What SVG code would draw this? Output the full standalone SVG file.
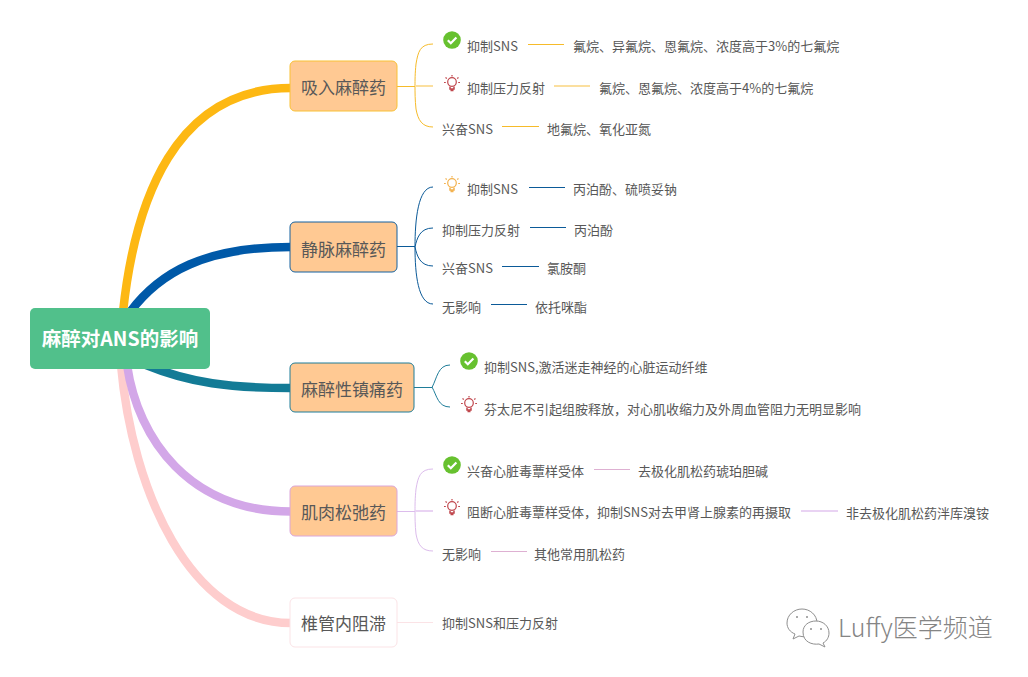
<svg xmlns="http://www.w3.org/2000/svg" width="1028" height="677" viewBox="0 0 1028 677">
<style>
text{font-family:"Noto Sans CJK SC","Microsoft YaHei",sans-serif;fill:#585858}
.t{font-size:13px}
.b{font-size:17px;text-anchor:middle}
.n{rx:5px;ry:5px;stroke-width:1}
.m{fill:none;stroke-width:8.500}
.c{fill:none;stroke-width:1}
.y{stroke:#f6bb2a}.l{stroke:#0b5a98}.g{stroke:#1f7d99}.p{stroke:#dcbcec}.q{stroke:#deb0d2}.k{stroke:#fbe3e6}
.yf{stroke:#fbdf9f;stroke-width:2}.pf{stroke:#e9d3f3;stroke-width:2}
</style>
<defs>
<g id="check"><circle r="8.8" fill="#67c12f"/><path d="M-4.2 .2L-1.2 3.2 4.4-2.6" fill="none" stroke="#fff" stroke-width="2.2"/></g>
<g id="bulb" fill="none" stroke-width="1.2"><circle cy="-1" r="4.3"/><path d="M-2 3.500V6H2V3.500M-1.500 7.500H1.500" stroke-width="1.500"/><path d="M0-8V-6.500M-6.500-5.500L-5.200-4.500M6.500-5.500L5.200-4.500M-8-.5H-6.200M8-.5H6.200"/></g>
<g id="wechat" fill="#fff" stroke="#8f8f8f" stroke-width="1"><path d="M795 634L793 639 799 636C803 637 807 637 811 636 816 633 817 628 817 623 817 615 810 609 802 609 794 609 787 615 787 623 787 628 790 632 795 634Z"/><path d="M823 643L825 647 819 644C812 645 803 642 803 632 803 625 809 621 816 621 823 621 829 626 829 633 829 637 827 641 823 643Z"/><g fill="#8f8f8f" stroke="none"><circle cx="797" cy="617" r="1"/><circle cx="807" cy="617" r="1"/><circle cx="811" cy="629" r="1"/><circle cx="821" cy="629" r="1"/></g></g>
</defs>
<rect width="1028" height="677" fill="#fff"/>
<g id="connectors">
<path class="m" stroke="#fecdcd" d="M121 365C132 490 190 623 291 623"/>
<path class="m" stroke="#d3a7e8" d="M127 365C138 440 190 511.500 291 511.500"/>
<path class="m" stroke="#137b96" d="M146 365C190 383 230 388 291 388"/>
<path class="m" stroke="#0059a8" d="M130 312C160 272 205 247 291 247"/>
<path class="m" stroke="#fdb813" d="M123 312C135 200 175 88 291 88"/>
<path class="c y" d="M397 86.500H415M433 44C420 44 418 52 416 64 415 74 415 80 415 86 415 92 415 100 416 109 418 120 422 127 433 127"/>
<path class="c yf" d="M415 86H433M554 86H590"/>
<path class="c y" d="M528 44.500H564M502 126.500H539"/>
<path class="c l" d="M397 246.500H415C415 220 418 187 433 187M415 247C417 238 420 228 433 228M415 247C417 256 420 266 433 266M415 247C415 274 418 304 433 304M529 187.500H565M530 227.500H566M502 266.500H539M491 304.500H527"/>
<path class="c g" d="M414 387.500H432C437 378 438 365 450 365M432 387C437 396 438 407 450 407"/>
<path class="c p" d="M397 511.500H415M433 469C420 469 418 477 416 489 415 499 415 505 415 511 415 517 415 525 416 534 418 545 422 551 433 551"/>
<path class="c q" d="M594 469.500H630M491 551.500H527"/>
<path class="c pf" d="M415 511H433M801 511H838"/>
<path class="c k" d="M397 622.500H433"/>
</g>
<g id="root"><rect x="30" y="308" width="180" height="61" rx="5" fill="#51c08b"/><text x="120" y="346" style="fill:#fff;font-size:19.500px;font-weight:700;text-anchor:middle">麻醉对ANS的影响</text></g>
<g id="n1"><rect class="n" x="290" y="61" width="107" height="50" fill="#ffc993" stroke="#f9c135"/><text class="b" x="343.500" y="94">吸入麻醉药</text></g>
<g id="n2"><rect class="n" x="290" y="222" width="107" height="50" fill="#ffc993" stroke="#14619f"/><text class="b" x="343.500" y="256">静脉麻醉药</text></g>
<g id="n3"><rect class="n" x="290" y="363" width="124" height="49" fill="#ffc993" stroke="#1f7d99"/><text class="b" x="352" y="396">麻醉性镇痛药</text></g>
<g id="n4"><rect class="n" x="290" y="486" width="107" height="50" fill="#ffc993" stroke="#dba6da"/><text class="b" x="343.500" y="519">肌肉松弛药</text></g>
<g id="n5"><rect class="n" x="290" y="598" width="107" height="49" fill="#fff" stroke="#fbe3e6"/><text class="b" x="343.500" y="630">椎管内阻滞</text></g>
<g id="leaf-1-1"><use href="#check" x="452" y="40"/><text class="t" x="467" y="50.500">抑制SNS</text></g>
<g id="leaf-1-1a"><text class="t" x="573" y="50.500">氟烷、异氟烷、恩氟烷、浓度高于3%的七氟烷</text></g>
<g id="leaf-1-2"><use href="#bulb" x="452" y="83" stroke="#c0474d"/><text class="t" x="467" y="92.500">抑制压力反射</text></g>
<g id="leaf-1-2a"><text class="t" x="599" y="92.500">氟烷、恩氟烷、浓度高于4%的七氟烷</text></g>
<g id="leaf-1-3"><text class="t" x="442" y="133.500">兴奋SNS</text></g>
<g id="leaf-1-3a"><text class="t" x="547" y="133.500">地氟烷、氧化亚氮</text></g>
<g id="leaf-2-1"><use href="#bulb" x="452" y="184" stroke="#f3b24f"/><text class="t" x="467" y="193.500">抑制SNS</text></g>
<g id="leaf-2-1a"><text class="t" x="573" y="193.500">丙泊酚、硫喷妥钠</text></g>
<g id="leaf-2-2"><text class="t" x="442" y="234.500">抑制压力反射</text></g>
<g id="leaf-2-2a"><text class="t" x="574" y="234.500">丙泊酚</text></g>
<g id="leaf-2-3"><text class="t" x="442" y="272.500">兴奋SNS</text></g>
<g id="leaf-2-3a"><text class="t" x="547" y="272.500">氯胺酮</text></g>
<g id="leaf-2-4"><text class="t" x="442" y="311.500">无影响</text></g>
<g id="leaf-2-4a"><text class="t" x="535" y="311.500">依托咪酯</text></g>
<g id="leaf-3-1"><use href="#check" x="469" y="361"/><text class="t" x="484" y="371.500">抑制SNS,激活迷走神经的心脏运动纤维</text></g>
<g id="leaf-3-2"><use href="#bulb" x="469" y="404" stroke="#c0474d"/><text class="t" x="484" y="413.500">芬太尼不引起组胺释放，对心肌收缩力及外周血管阻力无明显影响</text></g>
<g id="leaf-4-1"><use href="#check" x="452" y="465"/><text class="t" x="467" y="475.500">兴奋心脏毒蕈样受体</text></g>
<g id="leaf-4-1a"><text class="t" x="638" y="475.500">去极化肌松药琥珀胆碱</text></g>
<g id="leaf-4-2"><use href="#bulb" x="452" y="507" stroke="#c0474d"/><text class="t" x="467" y="516.500">阻断心脏毒蕈样受体，抑制SNS对去甲肾上腺素的再摄取</text></g>
<g id="leaf-4-2a"><text class="t" x="846" y="517.500">非去极化肌松药泮库溴铵</text></g>
<g id="leaf-4-3"><text class="t" x="442" y="558.500">无影响</text></g>
<g id="leaf-4-3a"><text class="t" x="534" y="558.500">其他常用肌松药</text></g>
<g id="leaf-5-1"><text class="t" x="442" y="627.500">抑制SNS和压力反射</text></g>
<g id="watermark"><use href="#wechat"/><text x="838" y="637" style="font-size:25px;font-weight:300;fill:#858585">Luffy医学频道</text></g>
</svg>
